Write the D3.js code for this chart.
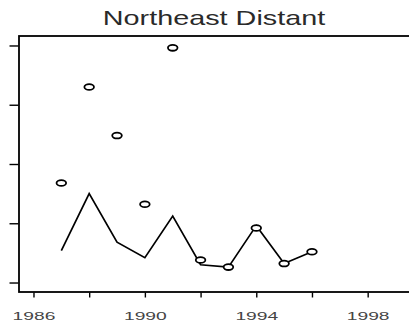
<!DOCTYPE html>
<html>
<head>
<meta charset="utf-8">
<script src="https://cdn.jsdelivr.net/npm/d3@7"></script>
<style>
  html, body { margin: 0; padding: 0; background: #fff; }
  svg { display: block; }
</style>
</head>
<body>
<svg id="chart" width="409" height="323"></svg>
<script>
// Annual series for the Northeast, distant region
const years = [1987, 1988, 1989, 1990, 1991, 1992, 1993, 1994, 1995, 1996];
const observed = [8.4, 16.5, 12.4, 6.6, 19.8, 1.9, 1.3, 4.6, 1.6, 2.6];
const fitted = [2.7, 7.5, 3.4, 2.1, 5.6, 1.5, 1.3, 4.8, 1.6, 2.6];

// Axis ticks
const xTicks = [1986, 1988, 1990, 1992, 1994, 1996, 1998];
const xTickLabels = ["1986", "", "1990", "", "1994", "", "1998"];
const yTicks = [0, 5, 10, 15, 20];

const title = "Northeast Distant";

const svg = d3.select("#chart");
const plotLeft = 19, plotRight = 410, plotTop = 36, plotBottom = 292;

const xLim = [1986, 1999];
const xPad = (xLim[1] - xLim[0]) * 0.04;
const x = d3.scaleLinear().domain([xLim[0] - xPad, xLim[1] + xPad]).range([plotLeft, plotRight]);

const yLim = [0, 20];
const yPad = (yLim[1] - yLim[0]) * 0.04;
const y = d3.scaleLinear().domain([yLim[0] - yPad, yLim[1] + yPad]).range([plotBottom, plotTop]);

// Title
svg.append("text")
  .attr("transform", `translate(${(plotLeft + plotRight) / 2 - 0.5},25) scale(1.44,1)`)
  .attr("text-anchor", "middle")
  .attr("font-family", "Liberation Sans, Arial, sans-serif")
  .attr("font-size", 20)
  .attr("fill", "#2a2a2a")
  .text(title);

// Plot frame
svg.append("rect")
  .attr("x", plotLeft).attr("y", plotTop)
  .attr("width", plotRight - plotLeft).attr("height", plotBottom - plotTop)
  .attr("fill", "none").attr("stroke", "#000").attr("stroke-width", 1.8);

// X axis
const xAxis = d3.axisBottom(x)
  .tickValues(xTicks)
  .tickSize(5)
  .tickFormat((d, i) => xTickLabels[i]);
const gx = svg.append("g").attr("transform", `translate(0,${plotBottom + 0.5})`).call(xAxis);
gx.select(".domain").remove();
gx.selectAll(".tick line").attr("stroke", "#000").attr("stroke-width", 1.4);
gx.selectAll(".tick text").each(function () {
  d3.select(this)
    .attr("y", null).attr("dy", null)
    .attr("transform", "translate(0,27) scale(1.75,1)")
    .attr("font-family", "Liberation Sans, Arial, sans-serif")
    .attr("font-size", 11)
    .attr("fill", "#444");
});

// Y axis (ticks only)
const yAxis = d3.axisLeft(y).tickValues(yTicks).tickSize(9).tickFormat("");
const gy = svg.append("g").attr("transform", `translate(${plotLeft - 0.5},0)`).call(yAxis);
gy.select(".domain").remove();
gy.selectAll(".tick line").attr("stroke", "#000").attr("stroke-width", 1.4);

// Fitted line
const line = d3.line()
  .x((d, i) => x(years[i]))
  .y(d => y(d));
svg.append("path")
  .datum(fitted)
  .attr("d", line)
  .attr("fill", "none")
  .attr("stroke", "#000")
  .attr("stroke-width", 1.7)
  .attr("stroke-linejoin", "miter");

// Observed points
svg.append("g").selectAll("ellipse")
  .data(observed)
  .join("ellipse")
  .attr("cx", (d, i) => x(years[i]))
  .attr("cy", d => y(d))
  .attr("rx", 4.8)
  .attr("ry", 2.9)
  .attr("fill", "#fff")
  .attr("stroke", "#000")
  .attr("stroke-width", 1.8);
</script>
</body>
</html>
